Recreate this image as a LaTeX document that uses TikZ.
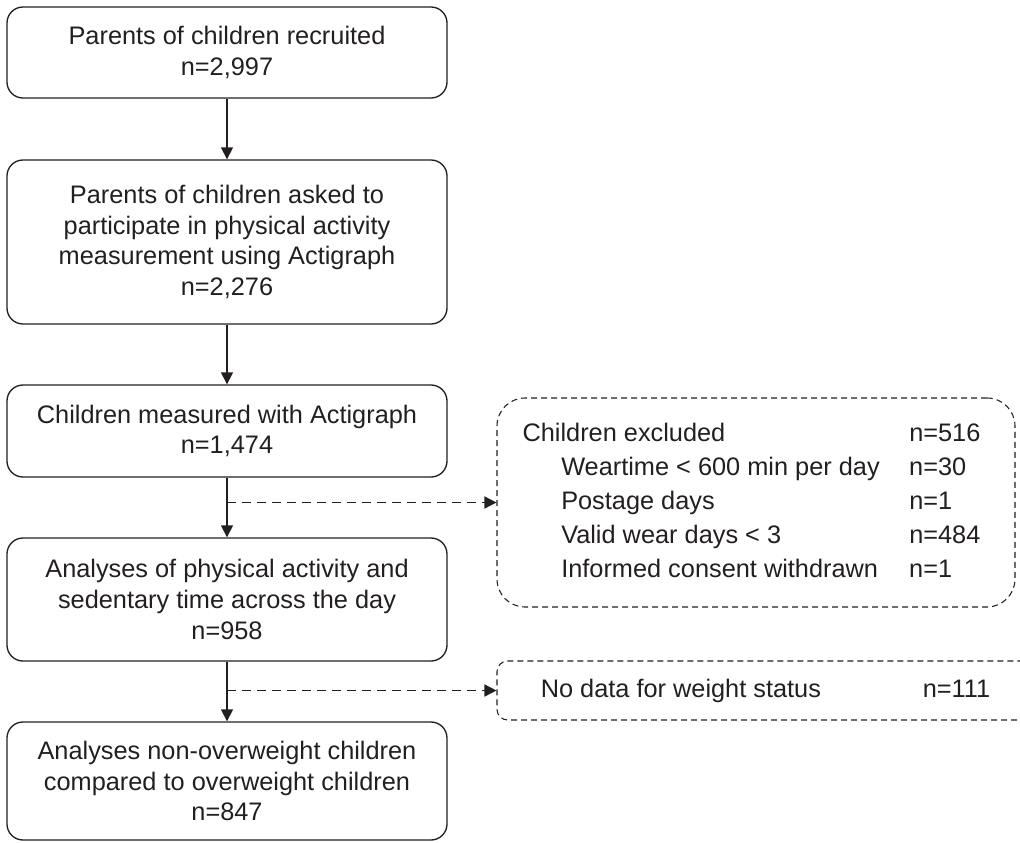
\documentclass[tikz,border=0pt]{standalone}
\usepackage{fontspec}
\setmainfont{Liberation Sans}
\usetikzlibrary{arrows.meta}
\definecolor{ink}{HTML}{231F20}
\begin{document}
\begin{tikzpicture}[x=0.75pt,y=-0.75pt,
  every node/.style={text=ink},
  flowbox/.style={draw=ink, line width=1pt, rounded corners=12pt, align=center,
    minimum width=330pt, inner sep=0pt,
    font=\fontsize{19}{23}\selectfont},
  exclbox/.style={draw=ink, line width=0.8pt, dash pattern=on 4.5pt off 3pt,
    inner sep=0pt, font=\fontsize{19}{25.5}\selectfont},
  flowarrow/.style={draw=ink, line width=1pt, -{Triangle[width=9pt,length=9pt]}},
  exclarrow/.style={draw=ink, line width=1.1pt, dash pattern=on 6.75pt off 4.5pt,
    -{Triangle[width=9pt,length=9pt]}}
]
\useasboundingbox (0,0) rectangle (1020,842);
\clip (0,0) rectangle (1020,842);

% main flow
\node[flowbox, minimum height=68.25pt] (b1) at (227,52.5)
  {Parents of children recruited\\n=2,997};
\node[flowbox, minimum height=123pt] (b2) at (227,242)
  {Parents of children asked to\\participate in physical activity\\measurement using Actigraph\\n=2,276};
\node[flowbox, minimum height=69pt] (b3) at (227,431)
  {Children measured with Actigraph\\n=1,474};
\node[flowbox, minimum height=92.25pt] (b4) at (227,599.5)
  {Analyses of physical activity and\\sedentary time across the day\\n=958};
\node[flowbox, minimum height=88.5pt] (b5) at (227,781)
  {Analyses non-overweight children\\compared to overweight children\\n=847};

% exclusions
\node[exclbox, rounded corners=21pt, minimum width=388.5pt, minimum height=156.75pt] (ex1) at (756,502.5)
  {\begin{tabular}{@{}p{290pt}@{}l@{}}
   Children excluded & n=516\\
   \hspace{29pt}Weartime < 600 min per day & n=30\\
   \hspace{29pt}Postage days & n=1\\
   \hspace{29pt}Valid wear days < 3 & n=484\\
   \hspace{29pt}Informed consent withdrawn & n=1
   \end{tabular}\hspace*{6.75pt}};
\node[exclbox, rounded corners=8pt, minimum width=402.75pt, minimum height=44.25pt] (ex2) at (765.5,690.5)
  {\begin{tabular}{@{}p{286.5pt}@{}l@{}}
   No data for weight status & n=111
   \end{tabular}};

% connectors
\draw[flowarrow] (b1) -- (b2);
\draw[flowarrow] (b2) -- (b3);
\draw[flowarrow] (b3) -- (b4);
\draw[flowarrow] (b4) -- (b5);
\draw[exclarrow] (b3.south |- ex1.west) -- (ex1.west);
\draw[exclarrow] (b4.south |- ex2.west) -- (ex2.west);
\end{tikzpicture}
\end{document}
